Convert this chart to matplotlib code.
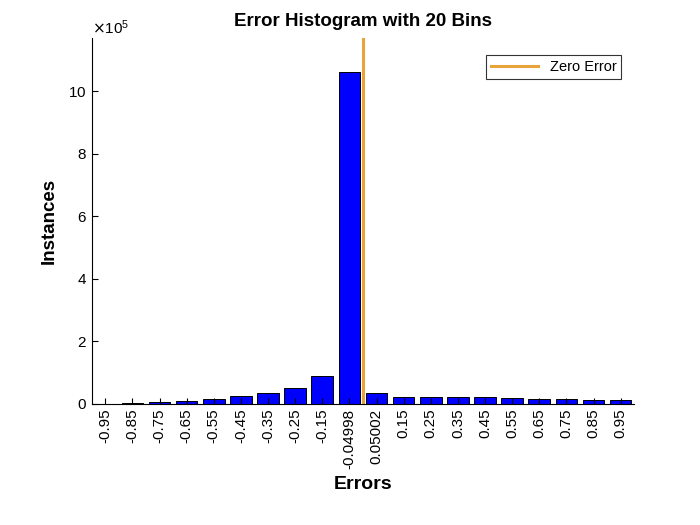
import matplotlib.pyplot as plt
from matplotlib.ticker import ScalarFormatter

plt.rcParams['font.family'] = ['Liberation Sans', 'DejaVu Sans']

# bin centres (tick labels) and counts
bin_labels = ['-0.95', '-0.85', '-0.75', '-0.65', '-0.55', '-0.45', '-0.35',
              '-0.25', '-0.15', '-0.04998', '0.05002', '0.15', '0.25', '0.35',
              '0.45', '0.55', '0.65', '0.75', '0.85', '0.95']
counts = [500, 4000, 7000, 11000, 17000, 27000, 36000, 52000, 90000, 1060000,
          36000, 23000, 23000, 23000, 23000, 20000, 17000, 17000, 14000, 14000]
zero_pos = 10.5  # position of zero error in bin index space

fig = plt.figure(figsize=(7, 5.25), dpi=100)
ax = fig.add_axes([0.131, 0.2305, 0.775, 0.697])

idx = list(range(1, len(counts) + 1))
ax.bar(idx, counts, width=0.8, color='#0000ff', edgecolor='black', linewidth=0.7)
ax.axvline(zero_pos, color='#e8a33a', linewidth=2.2, label='Zero Error')

ax.set_xlim(0.5, 20.5)
ax.set_ylim(0, 1.17e6)
ax.set_xticks(idx)
ax.set_xticklabels(bin_labels, rotation=90, fontsize=11)
ax.set_yticks([0, 2e5, 4e5, 6e5, 8e5, 10e5])

# fixed exponent of 5, like the original
fmt = ScalarFormatter(useMathText=True)
fmt.set_powerlimits((5, 5))
ax.yaxis.set_major_formatter(fmt)
ax.yaxis.get_offset_text().set_fontsize(11)

ax.tick_params(direction='in', labelsize=11, length=4, width=0.8)
ax.spines['top'].set_visible(False)
ax.spines['right'].set_visible(False)

ax.set_title('Error Histogram with 20 Bins', fontsize=13.5, fontweight='bold', pad=9)
ax.set_xlabel('Errors', fontsize=14, fontweight='bold', labelpad=5)
ax.set_ylabel('Instances', fontsize=13.5, fontweight='bold', labelpad=8)

leg = ax.legend(loc='upper right', bbox_to_anchor=(0.99, 0.973), fontsize=10.5,
                frameon=True, fancybox=False, edgecolor='black',
                handlelength=3.2, borderpad=0.35)
leg.get_frame().set_linewidth(0.8)

fig.savefig('out.png', dpi=100)
